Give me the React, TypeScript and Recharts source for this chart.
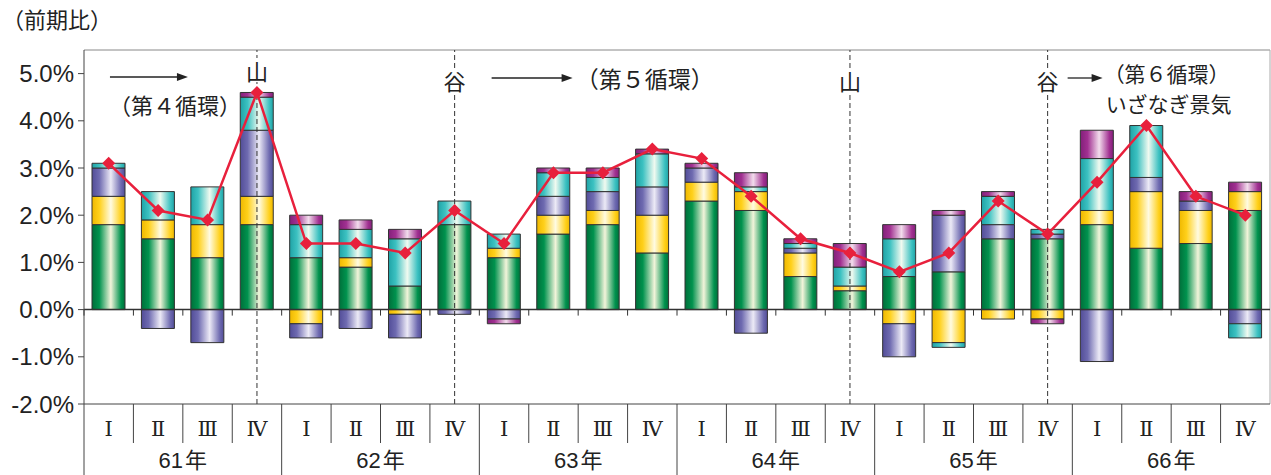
import React from 'react';
import { ComposedChart, Bar, Line, XAxis, YAxis, ReferenceLine } from 'recharts';

// 昭和61年〜66年の四半期（前期比・寄与度）
const years = ['61', '62', '63', '64', '65', '66'];
const romans = ['Ⅰ', 'Ⅱ', 'Ⅲ', 'Ⅳ'];

// 寄与度（％ポイント）— 色ごとの系列、下から積み上げ順
const greenPart = [1.8, 1.5, 1.1, 1.8, 1.1, 0.9, 0.5, 1.8, 1.1, 1.6, 1.8, 1.2, 2.3, 2.1, 0.7, 0.4, 0.7, 0.8, 1.5, 1.5, 1.8, 1.3, 1.4, 2.1];
const yellowPart = [0.6, 0.4, 0.7, 0.6, -0.3, 0.2, -0.1, 0, 0.2, 0.4, 0.3, 0.8, 0.4, 0.4, 0.5, 0.1, -0.3, -0.7, -0.2, -0.2, 0.3, 1.2, 0.7, 0.4];
const purplePart = [0.6, -0.4, -0.7, 1.4, -0.3, -0.4, -0.5, -0.1, -0.2, 0.4, 0.4, 0.6, 0.3, -0.5, 0.1, 0, -0.7, 1.2, 0.3, 0.1, -1.1, 0.3, 0.2, -0.3];
const cyanPart = [0.1, 0.6, 0.8, 0.7, 0.7, 0.6, 1.0, 0.5, 0.3, 0.5, 0.3, 0.7, 0, 0.1, 0.1, 0.4, 0.8, -0.1, 0.6, 0.1, 1.1, 1.1, 0, -0.3];
const magentaPart = [0, 0, 0, 0.1, 0.2, 0.2, 0.2, 0, -0.1, 0.1, 0.2, 0.1, 0.1, 0.3, 0.1, 0.5, 0.3, 0.1, 0.1, -0.1, 0.6, 0, 0.2, 0.2];
// 前期比（折れ線）
const growth = [3.1, 2.1, 1.9, 4.6, 1.4, 1.4, 1.2, 2.1, 1.4, 2.9, 2.9, 3.4, 3.2, 2.4, 1.5, 1.2, 0.8, 1.2, 2.3, 1.6, 2.7, 3.9, 2.4, 2.0];

const yTicks = [-2, -1, 0, 1, 2, 3, 4, 5];

const data = years.flatMap((yr, yi) =>
  romans.map((r, ri) => {
    const i = yi * 4 + ri;
    return {
      key: yr + r,
      green: greenPart[i],
      yellow: yellowPart[i],
      purple: purplePart[i],
      cyan: cyanPart[i],
      magenta: magentaPart[i],
      growth: growth[i],
    };
  })
);

// レイアウト
const W = 1271;
const H = 475;
const LEFT = 84;
const RIGHT = 1;
const TOP = 50;
const AXIS_H = 71;
const BAND = (W - LEFT - RIGHT) / data.length;
const FONT = "'Liberation Sans', 'Noto Sans CJK JP', sans-serif";
const FONT_JP = "'Noto Sans CJK JP', sans-serif";
const LINE_RED = '#e8203c';

// 円柱風グラデーション [濃, 基本, ハイライト]
const palette: Record<string, string[]> = {
  green: ['#006f3a', '#00924e', '#f2f4da'],
  yellow: ['#efb800', '#ffd01a', '#fffbe2'],
  purple: ['#524d98', '#6e6ab0', '#eceaf6'],
  cyan: ['#1fa3a6', '#3cc1c1', '#f0faf0'],
  magenta: ['#83207a', '#a13091', '#f2dcec'],
};
const seriesOrder = ['green', 'yellow', 'purple', 'cyan', 'magenta'];

// 景気の山・谷と注記（線からの相対位置）
const cycleMarks = [
  { at: '61Ⅳ', mark: '山', markY: 20, arrow: [-147, -69, 27], notes: [{ text: '（第４循環）', dx: -148, dy: 54, size: 22 }] },
  { at: '62Ⅳ', mark: '谷', markY: 30, arrow: [37, 118, 28], notes: [{ text: '（第５循環）', dx: 121, dy: 28, size: 23 }] },
  { at: '64Ⅳ', mark: '山', markY: 30, arrow: null, notes: [] },
  {
    at: '65Ⅳ',
    mark: '谷',
    markY: 30,
    arrow: [20, 55, 28],
    notes: [
      { text: '（第６循環）', dx: 56, dy: 23, size: 21 },
      { text: 'いざなぎ景気', dx: 58, dy: 53, size: 21 },
    ],
  },
];

function QuarterTick(props: any) {
  const { x, y, index } = props;
  const h = BAND / 2;
  const first = index % 4 === 0;
  return (
    <g>
      <line x1={x - h} x2={x - h} y1={y} y2={y + (first ? AXIS_H : 39)} stroke="#444" strokeWidth={1} />
      <text x={x} y={y + 32} textAnchor="middle" fontFamily="'DejaVu Serif', serif" fontSize={21} fill="#222">
        {romans[index % 4]}
      </text>
      {index % 4 === 1 && (
        <text x={x + h} y={y + 64} textAnchor="middle" fontSize={22} fill="#222">
          <tspan fontFamily={FONT}>{years[Math.floor(index / 4)]}</tspan>
          <tspan fontFamily={FONT_JP} dx={2}>年</tspan>
        </text>
      )}
    </g>
  );
}

function ZeroLine(props: any) {
  const { x1, x2, y1 } = props;
  return (
    <g>
      <line x1={x1} x2={x2} y1={y1} y2={y1} stroke="#333" strokeWidth={1.5} />
      {data.map((_, i) => (
        <line key={i} x1={x1 + BAND * i} x2={x1 + BAND * i} y1={y1} y2={y1 + 6} stroke="#333" strokeWidth={1} />
      ))}
    </g>
  );
}

function Diamond(props: any) {
  const { cx, cy } = props;
  if (cx == null || cy == null) return null;
  const r = 6.5;
  return (
    <polygon
      points={`${cx},${cy - r} ${cx + r},${cy} ${cx},${cy + r} ${cx - r},${cy}`}
      fill={LINE_RED}
    />
  );
}

function CycleLabel({ viewBox, spec }: any) {
  if (!viewBox) return null;
  const x = viewBox.x;
  const top = viewBox.y;
  return (
    <g fontFamily={FONT_JP} fill="#222">
      <rect x={x - 11} y={top + spec.markY - 12} width={22} height={24} fill="#fff" />
      <text x={x} y={top + spec.markY} textAnchor="middle" dominantBaseline="central" fontSize={22}>
        {spec.mark}
      </text>
      {spec.arrow && (
        <g>
          <line
            x1={x + spec.arrow[0]}
            x2={x + spec.arrow[1] - 8}
            y1={top + spec.arrow[2]}
            y2={top + spec.arrow[2]}
            stroke="#222"
            strokeWidth={1.3}
          />
          <polygon
            points={`${x + spec.arrow[1]},${top + spec.arrow[2]} ${x + spec.arrow[1] - 11},${top + spec.arrow[2] - 4} ${x + spec.arrow[1] - 11},${top + spec.arrow[2] + 4}`}
            fill="#222"
          />
        </g>
      )}
      {spec.notes.map((n: any) => (
        <text key={n.text} x={x + n.dx} y={top + n.dy} dominantBaseline="central" fontSize={n.size}>
          {n.text}
        </text>
      ))}
    </g>
  );
}

export default function App() {
  return (
    <div style={{ position: 'absolute', left: 0, top: 0, width: W, height: H, background: '#fff' }}>
      <div
        style={{
          position: 'absolute',
          left: 2,
          top: 4,
          fontFamily: FONT_JP,
          fontSize: 22,
          color: '#222',
          lineHeight: '28px',
        }}
      >
        （前期比）
      </div>
      <ComposedChart
        width={W}
        height={H}
        data={data}
        stackOffset="sign"
        margin={{ top: TOP, right: RIGHT, left: 0, bottom: 0 }}
      >
        <defs>
          {seriesOrder.map((k) => (
            <linearGradient key={k} id={`g-${k}`} x1="0" y1="0" x2="1" y2="0">
              <stop offset="0%" stopColor={palette[k][0]} />
              <stop offset="22%" stopColor={palette[k][1]} />
              <stop offset="57%" stopColor={palette[k][2]} />
              <stop offset="88%" stopColor={palette[k][1]} />
              <stop offset="100%" stopColor={palette[k][0]} />
            </linearGradient>
          ))}
        </defs>
        <XAxis
          dataKey="key"
          height={AXIS_H}
          interval={0}
          tickSize={0}
          tickMargin={0}
          tickLine={false}
          axisLine={{ stroke: '#444', strokeWidth: 1 }}
          tick={(p: any) => <QuarterTick {...p} />}
        />
        <YAxis
          width={LEFT}
          domain={[-2, 5.5]}
          ticks={yTicks}
          interval={0}
          allowDataOverflow
          tickSize={6}
          tickMargin={4}
          tickFormatter={(v: number) => `${v.toFixed(1)}%`}
          tick={{ fill: '#222', fontSize: 24, fontFamily: FONT }}
          axisLine={{ stroke: '#444', strokeWidth: 1 }}
          tickLine={{ stroke: '#444' }}
        />
        <ReferenceLine y={5.5} stroke="#888" strokeWidth={1} />
        <ReferenceLine x="66Ⅳ" position="end" stroke="#aaa" strokeWidth={1} />
        {seriesOrder.map((k) => (
          <Bar
            key={k}
            dataKey={k}
            stackId="a"
            barSize={33}
            fill={`url(#g-${k})`}
            stroke="#333"
            strokeWidth={1}
            isAnimationActive={false}
          />
        ))}
        <ReferenceLine y={0} shape={(p: any) => <ZeroLine {...p} />} />
        {cycleMarks.map((c) => (
          <ReferenceLine
            key={c.at}
            x={c.at}
            stroke="#333"
            strokeWidth={1}
            strokeDasharray="5 3"
            label={(p: any) => <CycleLabel {...p} spec={c} />}
          />
        ))}
        <Line
          dataKey="growth"
          stroke={LINE_RED}
          strokeWidth={2.5}
          dot={(p: any) => <Diamond key={p.index} {...p} />}
          activeDot={false}
          isAnimationActive={false}
        />
      </ComposedChart>
    </div>
  );
}
